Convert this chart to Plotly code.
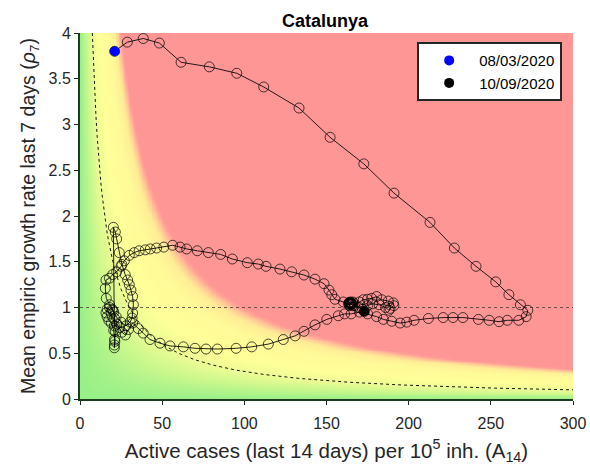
import numpy as np
import plotly.graph_objects as go

# ---- data (A14, rho7), chronological ----
A14 = [
    21.1, 28.8, 38.5, 48.3, 61.5, 78.7, 95.4, 111.8, 133.3, 152.2, 172.7, 191.1,
    213.0, 227.8, 241.0, 253.0, 261.0, 268.0, 272.5,
    271.5, 267.0, 260.0, 255.0, 249.0, 242.4, 233.0, 227.0, 221.0, 212.0, 203.3,
    198.8, 194.8, 189.7, 184.6, 180.5, 175.0, 170.0, 165.0, 161.0, 157.2, 150.2,
    143.0, 136.3, 130.9, 123.7, 114.6, 104.5, 95.0, 83.6, 76.7, 70.0, 62.9, 54.8,
    48.7, 42.6, 38.5, 35.5, 32.0,
    29.5, 27.6, 25.5, 24.0, 22.5, 21.5, 21.0, 20.9, 20.9, 21.2, 20.5, 19.0, 17.5,
    16.5, 15.8, 16.5, 18.0, 19.5, 20.5, 21.0, 20.9,
    20.3, 21.5, 22.3, 23.9, 25.5, 27.5, 29.0, 30.0, 31.0, 32.0, 32.5, 32.0, 31.7,
    30.5, 28.0, 25.0, 22.0, 20.0, 18.0, 16.0, 15.4, 15.8,
    17.9, 19.9, 22.3, 25.0, 27.0, 30.0, 33.0, 36.0, 39.7, 42.8, 46.6, 51.0, 56.4,
    60.9, 64.9, 71.4, 78.1, 85.6, 92.7, 101.8, 108.5, 113.2, 121.7, 128.8, 136.3,
    143.0, 148.5, 151.5, 153.2, 155.2, 160.3, 164.3,
    163.5, 164.5, 165.5, 164.0, 166.0, 165.0, 163.8, 165.2, 164.6, 166.2, 163.6,
    170.0, 172.4, 175.0, 177.5, 180.5,
    183.6, 187.6, 190.7, 191.0, 188.7, 188.0, 186.0, 182.0, 178.0, 175.0, 170.0,
    166.0, 165.0, 164.0, 167.0, 172.0, 173.0,
]
RHO7 = [
    3.80, 3.90, 3.94, 3.89, 3.68, 3.63, 3.56, 3.41, 3.18, 2.86, 2.57, 2.25,
    1.93, 1.65, 1.45, 1.28, 1.14, 1.03, 0.97,
    0.90, 0.86, 0.86, 0.845, 0.86, 0.87, 0.89, 0.89, 0.89, 0.88, 0.86,
    0.84, 0.83, 0.85, 0.87, 0.90, 0.93, 0.95, 0.93, 0.93, 0.91, 0.87,
    0.81, 0.74, 0.69, 0.65, 0.60, 0.57, 0.554, 0.546, 0.546, 0.554, 0.57, 0.58,
    0.61, 0.65, 0.72, 0.77, 0.83,
    0.76, 0.70, 0.73, 0.78, 0.82, 0.74, 0.65, 0.59, 0.56, 0.63, 0.75, 0.83, 0.86,
    0.90, 0.94, 0.98, 1.00, 0.98, 0.95, 0.88, 0.80,
    1.876, 1.825, 1.75, 1.60, 1.47, 1.36, 1.30, 1.25, 1.19, 1.12, 1.03, 0.94, 0.885,
    0.84, 0.80, 0.84, 0.90, 0.97, 1.03, 1.10, 1.21, 1.30,
    1.32, 1.36, 1.39, 1.45, 1.51, 1.57, 1.60, 1.62, 1.63, 1.64, 1.65, 1.66, 1.68,
    1.66, 1.64, 1.62, 1.60, 1.58, 1.53, 1.49, 1.475, 1.45, 1.42, 1.39, 1.355,
    1.31, 1.26, 1.19, 1.14, 1.09, 1.06, 1.03,
    1.04, 1.06, 1.04, 1.02, 1.06, 1.05, 1.055, 1.035, 1.045, 1.05, 1.045,
    1.06, 1.085, 1.09, 1.10, 1.12,
    1.085, 1.07, 1.05, 1.02, 0.99, 0.97, 1.00, 1.03, 1.04, 1.02, 1.00,
    1.02, 1.04, 1.05, 1.02, 0.98, 0.957,
]
START_LABEL = "08/03/2020"
END_LABEL = "10/09/2020"
X_TICKS = [0, 50, 100, 150, 200, 250, 300]
Y_TICKS = [0, 0.5, 1, 1.5, 2, 2.5, 3, 3.5, 4]
EPG_LINE = 30  # dashed iso-risk curve A14 * rho7 = 30

# ---- background risk field A14 * rho7 ----
gx = np.linspace(0, 300, 301)
gy = np.linspace(0, 4, 201)
Z = np.clip(np.outer(gy, gx), 0, 100)

colorscale = [
    [0.00, "rgb(152,240,136)"],
    [0.15, "rgb(200,247,140)"],
    [0.30, "rgb(238,252,148)"],
    [0.45, "rgb(255,255,152)"],
    [0.70, "rgb(255,250,152)"],
    [0.85, "rgb(255,236,150)"],
    [0.92, "rgb(255,200,150)"],
    [0.97, "rgb(255,165,150)"],
    [1.00, "rgb(255,150,150)"],
]

fig = go.Figure()
fig.add_trace(go.Heatmap(x=gx, y=gy, z=Z, colorscale=colorscale, zmin=0, zmax=100,
                         zsmooth="best", showscale=False, hoverinfo="skip",
                         showlegend=False))

# reference lines
fig.add_trace(go.Scatter(x=[0, 300], y=[1, 1], mode="lines", showlegend=False,
                         line=dict(color="rgba(70,50,50,0.75)", width=1, dash="3px,3px")))
cx = np.linspace(EPG_LINE / 4, 300, 400)
fig.add_trace(go.Scatter(x=cx, y=EPG_LINE / cx, mode="lines", showlegend=False,
                         line=dict(color="rgba(0,0,0,0.9)", width=1, dash="3px,3px")))

# trajectory
fig.add_trace(go.Scatter(x=A14, y=RHO7, mode="lines+markers", showlegend=False,
                         line=dict(color="rgba(0,0,0,0.85)", width=1),
                         marker=dict(symbol="circle-open", size=10,
                                     color="rgba(0,0,0,0.7)", line=dict(width=1))))

fig.add_trace(go.Scatter(x=[A14[0]], y=[RHO7[0]], mode="markers", name=START_LABEL,
                         marker=dict(color="#0000ff", size=10)))
fig.add_trace(go.Scatter(x=[A14[-1]], y=[RHO7[-1]], mode="markers", name=END_LABEL,
                         marker=dict(color="#000000", size=10)))

font = "Liberation Sans, Arial, Helvetica, sans-serif"
fig.update_layout(
    width=590, height=470,
    margin=dict(l=80, r=17, t=33, b=71),
    paper_bgcolor="white", plot_bgcolor="white",
    font=dict(family=font, size=16, color="#262626"),
    title=dict(text="<b>Catalunya</b>", x=0.551, xanchor="center", y=0.955,
               yanchor="middle", font=dict(size=18, color="black")),
    showlegend=True,
    legend=dict(x=0.978, y=0.975, xanchor="right", yanchor="top",
                bgcolor="white", bordercolor="#262626", borderwidth=2,
                font=dict(size=15, color="black"), itemwidth=50,
                tracegroupgap=0),
    xaxis=dict(range=[0, 300], tickvals=X_TICKS, ticks="outside", ticklen=4,
               tickcolor="#262626", showgrid=False, zeroline=False, automargin=False,
               showline=True, linecolor="#1e3a1e", linewidth=2, ticklabelstandoff=5,
               ticklabeloverflow="allow", tickfont=dict(size=16),
               title=dict(text="Active cases (last 14 days) per 10<sup>5</sup> inh. (A<sub>14</sub>)",
                          font=dict(size=20.5), standoff=12)),
    yaxis=dict(range=[0, 4], tickvals=Y_TICKS, ticks="outside", ticklen=4,
               tickcolor="#262626", showgrid=False, zeroline=False, automargin=False,
               showline=True, linecolor="#1e3a1e", linewidth=2,
               tickfont=dict(size=16),
               title=dict(text="Mean empiric growth rate last 7 days (<i>ρ</i><sub>7</sub>)",
                          font=dict(size=19.5), standoff=8)),
)

# remove the default 8px page margin so the figure fills the 590x470 window exactly
fig.write_html("out.html",
               config={"displayModeBar": False, "staticPlot": True},
               post_script="document.body.style.margin='0';document.body.style.overflow='hidden';")
